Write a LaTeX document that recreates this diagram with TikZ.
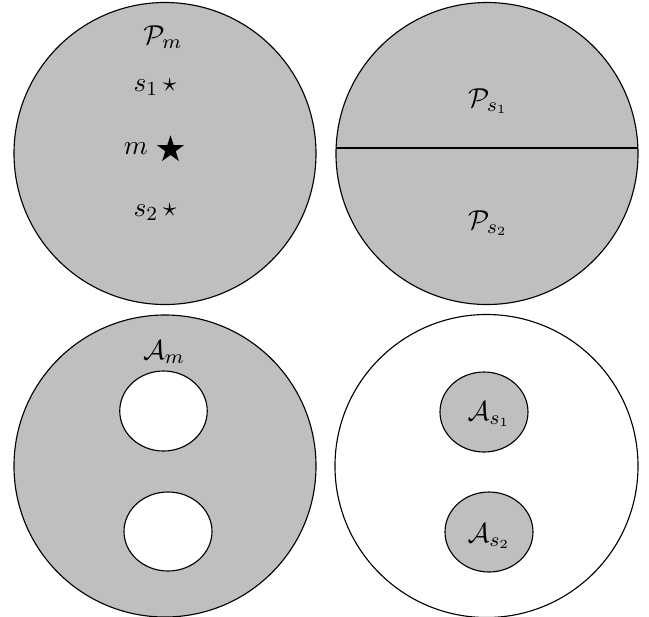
\documentclass[tikz,border=0pt]{standalone}
\usepackage{amssymb}
\usetikzlibrary{shapes.geometric}
\begin{document}
\begin{tikzpicture}[x=0.4pt,y=-0.4pt,
  region/.style={draw=black,line width=0.45pt,fill=black!25},
  hole/.style={draw=black,line width=0.45pt,fill=white},
  lbl/.style={inner sep=0pt,anchor=center,font=\fontsize{11pt}{13pt}\selectfont},
  bigstr/.style={star,star points=5,star point ratio=2.618,fill=black,minimum size=11.4pt,inner sep=0pt}]
\useasboundingbox (0,0) rectangle (649,616);
% top-left
\draw[region] (165,153.5) circle [radius=60.4pt];
\node[lbl] (pm) at (163,37) {$\mathcal{P}_m$};
\node[lbl] (s1) at (155,87) {$s_1\,\star$};
\node[lbl] (m) at (136,149) {$m$};
\node[bigstr] (mstar) at (170.5,149.5) {};
\node[lbl] (s2) at (155,212) {$s_2\,\star$};
% top-right
\draw[region] (487,153.5) circle [radius=60.4pt];
\coordinate (cutl) at (336.1,148);
\coordinate (cutr) at (637.9,148);
\draw[line width=0.45pt] (cutl) -- (cutr);
\node[lbl] (ps1) at (488,101) {$\mathcal{P}_{s_1}$};
\node[lbl] (ps2) at (488,223) {$\mathcal{P}_{s_2}$};
% bottom-left
\draw[region] (165,466) circle [radius=60.4pt];
\draw[hole] (163.5,411) ellipse [x radius=17.5pt,y radius=16pt];
\draw[hole] (168,531.5) ellipse [x radius=17.6pt,y radius=15.8pt];
\node[lbl] (am) at (164,352) {$\mathcal{A}_m$};
% bottom-right
\draw[hole] (486.5,466) circle [radius=60.6pt];
\draw[region] (484,412) ellipse [x radius=17.6pt,y radius=16pt];
\draw[region] (489,532) ellipse [x radius=17.6pt,y radius=16pt];
\node[lbl] (as1) at (489,414) {$\mathcal{A}_{s_1}$};
\node[lbl] (as2) at (489,536) {$\mathcal{A}_{s_2}$};
\end{tikzpicture}
\end{document}
